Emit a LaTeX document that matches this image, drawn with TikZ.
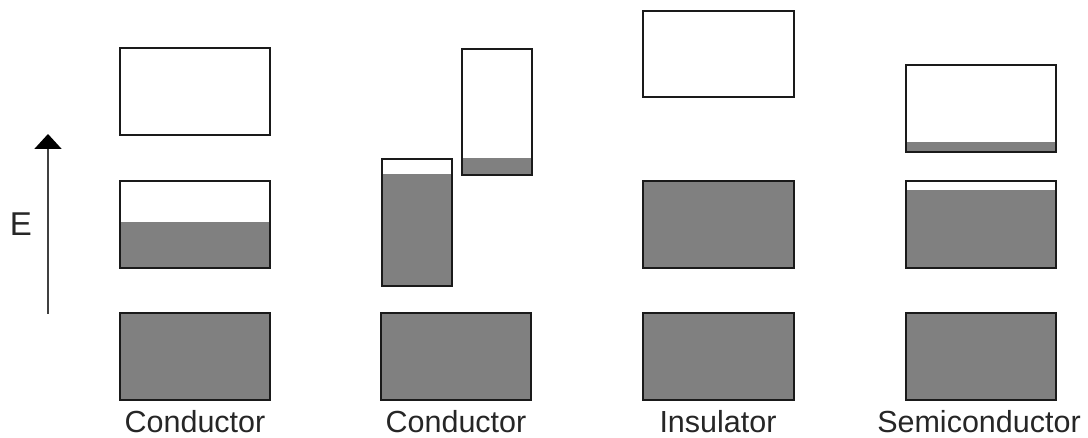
\documentclass[tikz,border=0pt]{standalone}
\usepackage{fontspec}
\setmainfont{Liberation Sans}
\usetikzlibrary{arrows.meta}
\definecolor{bandgray}{HTML}{808080}
\definecolor{edge}{HTML}{1A1A1A}
\begin{document}
\begin{tikzpicture}[x=1pt,y=-1pt,
  band/.style={draw=edge,line width=2pt},
  fillpart/.style={fill=bandgray},
  lbl/.style={anchor=base,font=\fontsize{30.5}{36}\selectfont,text=black!85},
  earrow/.style={draw=black!75,line width=2pt,-{Triangle[length=15pt,width=27pt,color=black]}}]
\useasboundingbox (0,0) rectangle (1088,438);
% Column 1: conductor
\draw[band] (120,48) rectangle (270,135);
\fill[fillpart] (120,222) rectangle (270,268);
\draw[band] (120,181) rectangle (270,268);
\fill[fillpart] (120,313) rectangle (270,400);
\draw[band] (120,313) rectangle (270,400);
\node[lbl] (l1) at (195,433) {Conductor};
% Column 2: conductor (overlapping bands)
\fill[fillpart] (382,174) rectangle (452,286);
\draw[band] (382,159) rectangle (452,286);
\fill[fillpart] (462,158) rectangle (532,175);
\draw[band] (462,49) rectangle (532,175);
\fill[fillpart] (381,313) rectangle (531,400);
\draw[band] (381,313) rectangle (531,400);
\node[lbl] (l2) at (456,433) {Conductor};
% Column 3: insulator
\draw[band] (643,11) rectangle (794,97);
\fill[fillpart] (643,181) rectangle (794,268);
\draw[band] (643,181) rectangle (794,268);
\fill[fillpart] (643,313) rectangle (794,400);
\draw[band] (643,313) rectangle (794,400);
\node[lbl] (l3) at (718,433) {Insulator};
% Column 4: semiconductor
\fill[fillpart] (906,142) rectangle (1056,152);
\draw[band] (906,65) rectangle (1056,152);
\fill[fillpart] (906,190) rectangle (1056,268);
\draw[band] (906,181) rectangle (1056,268);
\fill[fillpart] (906,313) rectangle (1056,400);
\draw[band] (906,313) rectangle (1056,400);
\node[lbl] (l4) at (979,433) {Semiconductor};
% Energy axis
\coordinate (abot) at (48,314);
\coordinate (atop) at (48,134);
\draw[earrow] (abot) -- (atop);
\node[font=\fontsize{33}{38}\selectfont,text=black!85] (E) at (21,224) {E};
\end{tikzpicture}
\end{document}
